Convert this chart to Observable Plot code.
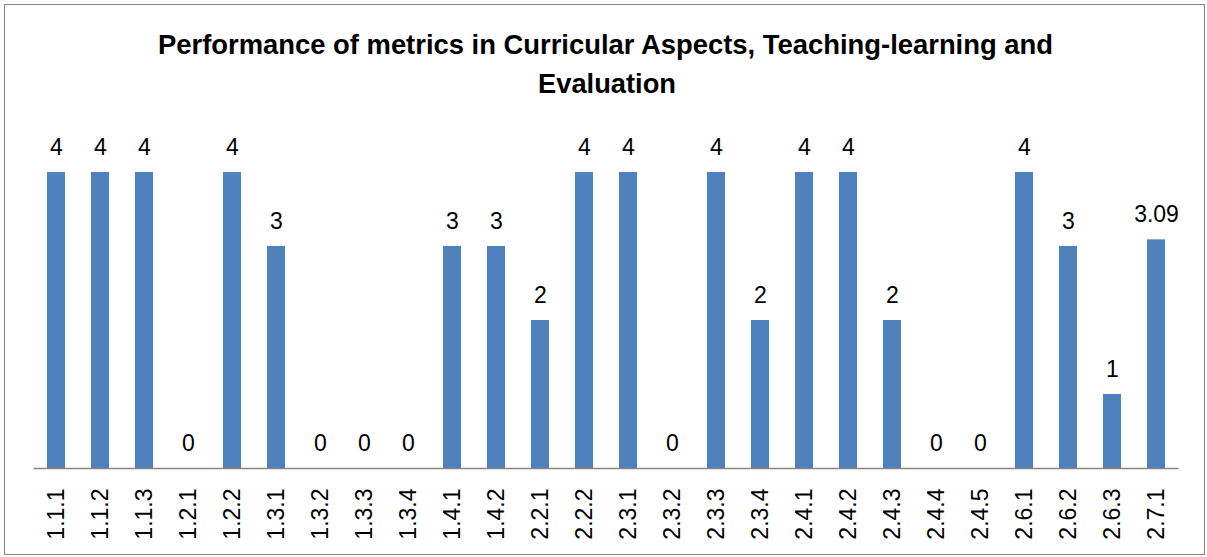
<!DOCTYPE html>
<html>
<head>
<meta charset="utf-8">
<script src="https://cdn.jsdelivr.net/npm/d3@7"></script>
<script src="https://cdn.jsdelivr.net/npm/@observablehq/plot@0.6"></script>
<style>
  html, body { margin: 0; padding: 0; background: #fff; }
  #wrap { position: relative; width: 1207px; height: 557px; overflow: hidden; }
  #frame { position: absolute; left: 4px; top: 4px; width: 1199px; height: 549px; border: 1.5px solid #868686; box-sizing: content-box; }
  #chart { position: absolute; left: 0; top: 0; }
  #title { position: absolute; left: 0; top: 0; }
</style>
</head>
<body>
<div id="wrap">
  <div id="frame"></div>
  <div id="chart"></div>
  <svg id="title" width="1207" height="110" xmlns="http://www.w3.org/2000/svg">
    <text x="605.5" y="54" text-anchor="middle" font-family="Liberation Sans, Arial, sans-serif" font-weight="bold" font-size="28" fill="#000" textLength="895" lengthAdjust="spacingAndGlyphs">Performance of metrics in Curricular Aspects, Teaching-learning and</text>
    <text x="607" y="93" text-anchor="middle" font-family="Liberation Sans, Arial, sans-serif" font-weight="bold" font-size="28" fill="#000" textLength="138" lengthAdjust="spacingAndGlyphs">Evaluation</text>
  </svg>
</div>
<script>
const metrics = ["1.1.1","1.1.2","1.1.3","1.2.1","1.2.2","1.3.1","1.3.2","1.3.3","1.3.4","1.4.1","1.4.2","2.2.1","2.2.2","2.3.1","2.3.2","2.3.3","2.3.4","2.4.1","2.4.2","2.4.3","2.4.4","2.4.5","2.6.1","2.6.2","2.6.3","2.7.1"];
const scores = [4,4,4,0,4,3,0,0,0,3,3,2,4,4,0,4,2,4,4,2,0,0,4,3,1,3.09];
const scoreLabels = ["4","4","4","0","4","3","0","0","0","3","3","2","4","4","0","4","2","4","4","2","0","0","4","3","1","3.09"];

const data = metrics.map((m, i) => ({metric: m, score: scores[i], label: scoreLabels[i]}));

const chart = Plot.plot({
  width: 1207,
  height: 557,
  marginLeft: 33.5,
  marginRight: 28.5,
  marginTop: 172,
  marginBottom: 89,
  style: {fontFamily: "Liberation Sans, Arial, sans-serif", fontSize: "23px", color: "#000", background: "transparent"},
  x: {domain: metrics, paddingInner: 0.6, paddingOuter: 0.3, label: null},
  y: {domain: [0, 4], axis: null},
  marks: [
    Plot.barY(data, {x: "metric", y: "score", fill: "#4F81BD"}),
    Plot.ruleY([0], {stroke: "#868686", strokeWidth: 1.5}),
    Plot.text(data, {x: "metric", y: "score", text: "label", dy: -25, fill: "#000", fontSize: 23}),
    Plot.axisX({tickSize: 0, tickRotate: -90, tickPadding: 20, fontSize: 23, fill: "#000", label: null})
  ]
});
document.getElementById("chart").appendChild(chart);
</script>
</body>
</html>
